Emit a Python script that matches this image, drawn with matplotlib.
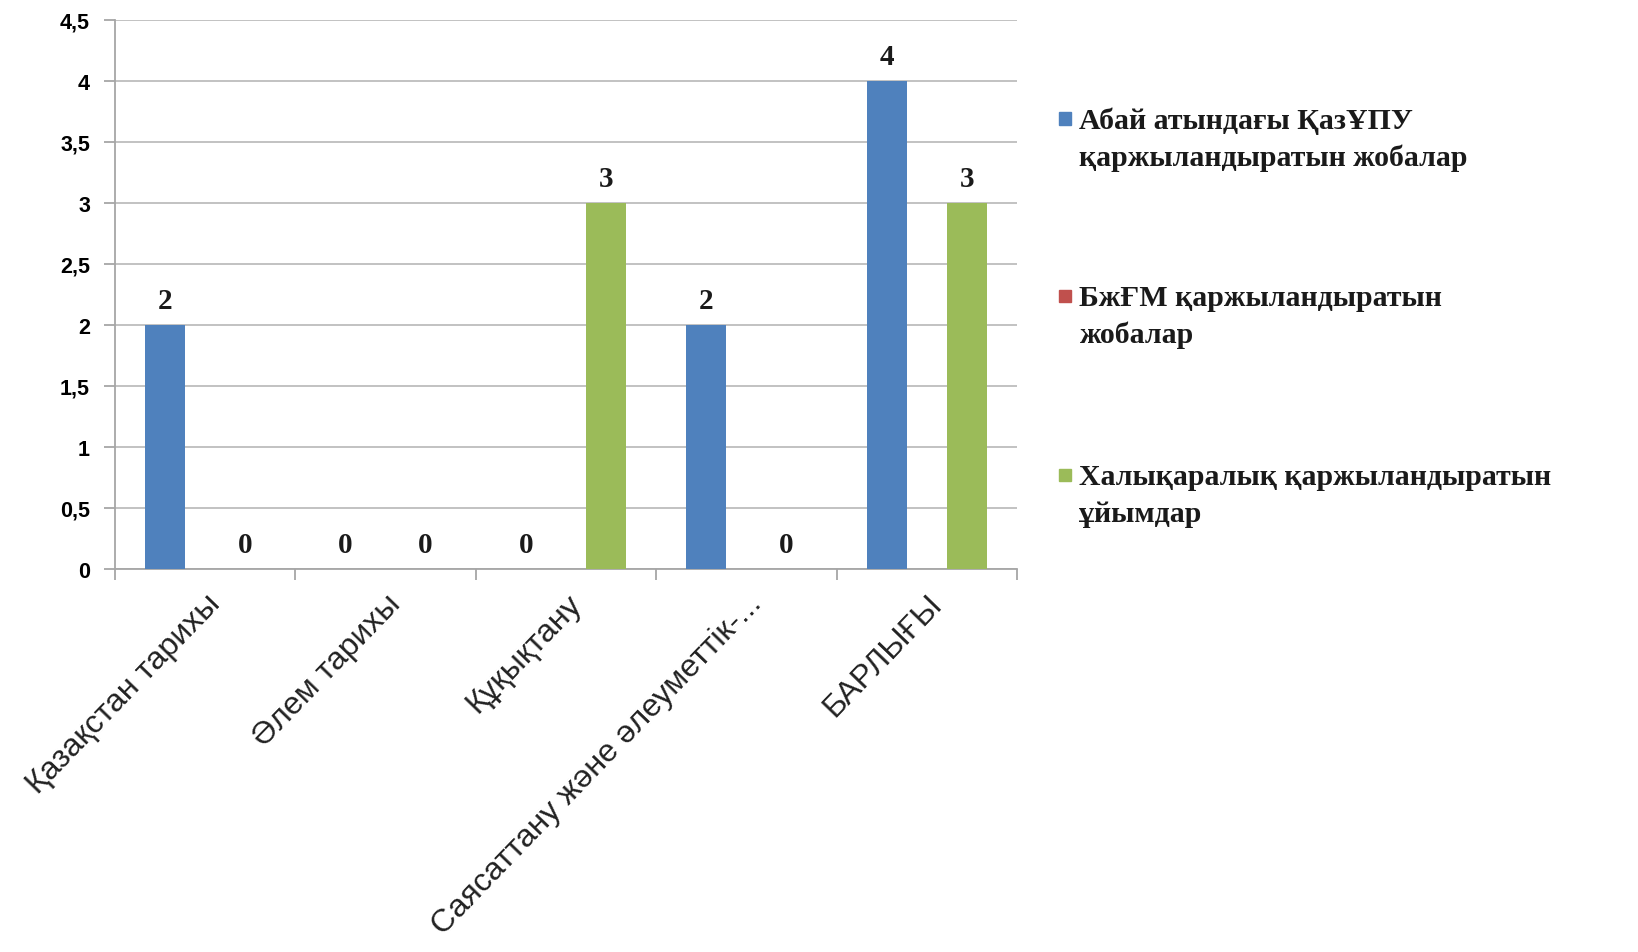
import matplotlib.pyplot as plt
import numpy as np
from matplotlib.patches import Rectangle

# деректер
categories = ['Қазақстан тарихы', 'Әлем тарихы', 'Құқықтану',
              'Саясаттану және әлеуметтік-...', 'БАРЛЫҒЫ']
series_names = ['Абай атындағы ҚазҰПУ\nқаржыландыратын жобалар',
                'БжҒМ қаржыландыратын\nжобалар',
                'Халықаралық қаржыландыратын\nұйымдар']
abai = [2, 0, 0, 2, 4]
bgm = [np.nan, np.nan, np.nan, np.nan, np.nan]
intl = [0, 0, 3, 0, 3]
y_ticks = [0, 0.5, 1, 1.5, 2, 2.5, 3, 3.5, 4, 4.5]

colors = ['#4F81BD', '#C0504D', '#9BBB59']
values = [abai, bgm, intl]

fig = plt.figure(figsize=(16.38, 9.53), dpi=100)
ax = fig.add_axes([0.0702, 0.4019, 0.5507, 0.5761])

x = np.arange(len(categories))
w = 0.222
offsets = [-w, 0, w]

for vals, off, c in zip(values, offsets, colors):
    bars = ax.bar(x + off, vals, width=w, color=c, zorder=3)
    for b, v in zip(bars, vals):
        if np.isnan(v):
            continue
        ax.annotate('%d' % v, (b.get_x() + b.get_width() / 2, v),
                    xytext=(0, 8), textcoords='offset points',
                    ha='center', va='bottom', fontsize=21, fontweight='bold',
                    family='Liberation Serif', color='#1a1a1a')

ax.set_xlim(-0.5, len(categories) - 0.5)
ax.set_ylim(0, 4.5)
ax.set_yticks(y_ticks)
ax.set_yticklabels([('%g' % t).replace('.', ',') for t in y_ticks],
                   fontsize=15.5, fontweight='bold', family='Liberation Sans')
ax.yaxis.grid(True, color='#BDBDBD', linewidth=1.3, zorder=0)

ax.set_xticks(x)
ax.set_xticklabels(categories, rotation=46, ha='right', rotation_mode='anchor',
                   fontsize=23, family='Liberation Sans', color='#222222')
ax.set_xticks(np.arange(-0.5, len(categories)), minor=True)
ax.tick_params(axis='x', which='major', length=0, pad=14)
ax.tick_params(axis='x', which='minor', length=8, color='#A6A6A6', width=1.3)
ax.tick_params(axis='y', length=8, color='#A6A6A6', width=1.3, pad=10)

for s in ['top', 'right']:
    ax.spines[s].set_visible(False)
for s in ['left', 'bottom']:
    ax.spines[s].set_color('#A6A6A6')
    ax.spines[s].set_linewidth(1.3)

# легенда
leg_y = [0.874, 0.688, 0.500]
for name, c, yy in zip(series_names, colors, leg_y):
    fig.patches.append(Rectangle((0.6465, yy - 0.006), 0.0075, 0.013,
                                 transform=fig.transFigure, color=c))
    fig.text(0.659, yy + 0.013, name, ha='left', va='top', fontsize=21.5,
             fontweight='bold', family='Liberation Serif', linespacing=1.45,
             color='#1a1a1a')

plt.savefig('out.png', dpi=100)
